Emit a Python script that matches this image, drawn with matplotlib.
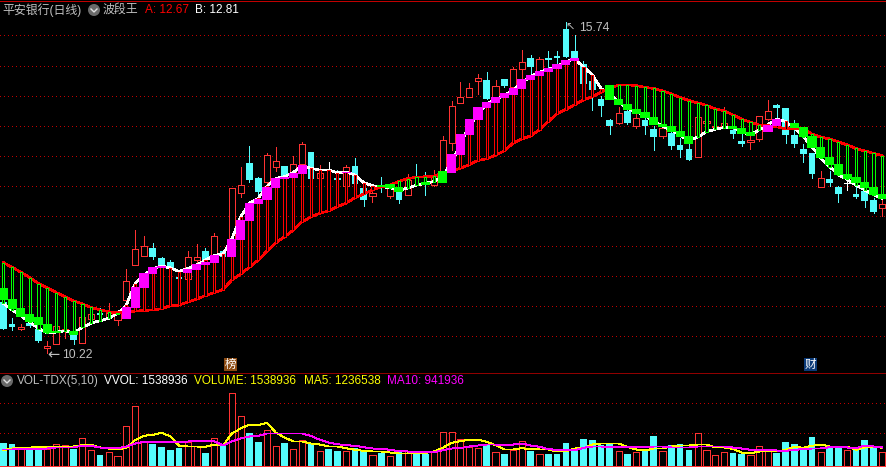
"""平安银行 daily K-line with the 波段王 overlay and a VOL-TDX panel (887x467)."""
import numpy as np
import matplotlib
matplotlib.use("Agg")
import matplotlib.pyplot as plt
from matplotlib.patches import Circle, Rectangle

plt.rcParams['font.family'] = ['Liberation Sans', 'Noto Sans CJK SC', 'DejaVu Sans']

OPEN = [11.07, 10.71, 10.63, 10.72, 10.62, 10.31, 10.37, 10.59, 10.52, 10.38,
        10.79, 10.89, 10.82, 10.77, 11.11, 11.69, 11.84, 11.97, 11.81, 11.74,
        11.49, 11.45, 11.78, 11.92, 11.86, 11.92, 11.85, 12.89, 13.39, 13.14,
        13.08, 13.33, 13.34, 13.22, 13.38, 13.58, 13.14, 13.27, 13.13, 13.01,
        13.34, 12.97, 12.84, 13.01, 12.84, 12.94, 12.86, 13.17, 13.06, 13.03,
        13.22, 13.72, 14.39, 14.49, 14.75, 14.77, 14.47, 14.79, 14.66, 14.95,
        15.14, 14.93, 15.14, 15.17, 15.62, 15.25, 15.04, 14.76, 14.46, 14.10,
        14.06, 14.26, 14.01, 14.10, 13.96, 13.84, 13.88, 13.69, 13.63, 13.49,
        14.05, 13.99, 13.99, 13.94, 13.76, 13.74, 13.79, 14.13, 14.36, 14.31,
        13.86, 13.63, 13.56, 12.99, 13.12, 12.98, 13.05, 12.88, 12.93, 12.77,
        12.64]
HIGH = [11.07, 10.81, 10.71, 10.75, 10.66, 10.42, 10.67, 10.62, 10.61, 10.82,
        10.87, 10.97, 11.05, 10.89, 11.63, 12.27, 12.17, 12.06, 11.83, 11.78,
        11.49, 11.92, 12.04, 11.98, 12.22, 11.92, 12.98, 13.32, 13.67, 13.16,
        13.56, 13.65, 13.34, 13.51, 13.74, 13.58, 13.36, 13.41, 13.27, 13.36,
        13.48, 13.08, 12.98, 13.16, 13.00, 13.00, 13.21, 13.38, 13.24, 13.27,
        13.84, 14.43, 14.74, 14.72, 14.87, 14.91, 14.77, 14.79, 14.99, 15.27,
        15.19, 15.16, 15.26, 15.26, 15.74, 15.52, 15.09, 14.83, 14.50, 14.13,
        14.33, 14.30, 14.20, 14.15, 14.00, 14.00, 13.95, 13.80, 13.70, 14.15,
        14.10, 14.02, 14.32, 14.00, 13.90, 13.85, 14.17, 14.44, 14.38, 14.31,
        14.11, 13.70, 13.56, 13.26, 13.25, 13.00, 13.12, 13.00, 12.97, 12.80,
        12.77]
LOW = [10.62, 10.61, 10.61, 10.65, 10.41, 10.22, 10.37, 10.48, 10.37, 10.38,
       10.79, 10.83, 10.82, 10.69, 10.99, 11.69, 11.84, 11.79, 11.66, 11.59,
       11.46, 11.45, 11.58, 11.77, 11.86, 11.82, 11.85, 12.82, 13.08, 12.85,
       13.05, 13.26, 13.15, 13.22, 13.38, 13.13, 13.05, 13.27, 13.06, 12.98,
       13.00, 12.67, 12.74, 12.91, 12.81, 12.73, 12.86, 13.02, 12.86, 13.00,
       13.20, 13.60, 14.39, 14.49, 14.54, 14.46, 14.47, 14.65, 14.66, 14.80,
       14.86, 14.93, 14.97, 15.02, 15.16, 15.00, 14.71, 14.27, 14.17, 13.87,
       14.04, 14.04, 13.98, 13.87, 13.61, 13.81, 13.62, 13.49, 13.44, 13.49,
       14.05, 13.98, 13.99, 13.81, 13.68, 13.62, 13.76, 14.10, 14.13, 13.73,
       13.66, 13.41, 13.14, 12.99, 13.01, 12.74, 12.94, 12.80, 12.66, 12.56,
       12.51]
CLOSE = [10.62, 10.66, 10.66, 10.68, 10.42, 10.33, 10.67, 10.62, 10.44, 10.82,
         10.87, 10.86, 10.89, 10.89, 11.42, 11.95, 12.00, 11.82, 11.69, 11.63,
         11.46, 11.82, 11.82, 11.77, 12.17, 11.82, 12.98, 13.03, 13.11, 12.91,
         13.53, 13.43, 13.15, 13.37, 13.70, 13.13, 13.23, 13.27, 13.11, 13.33,
         13.04, 12.77, 12.88, 12.97, 12.97, 12.77, 13.11, 13.15, 13.03, 13.18,
         13.77, 14.34, 14.48, 14.63, 14.80, 14.46, 14.68, 14.68, 14.95, 15.08,
         14.99, 15.12, 15.11, 15.14, 15.16, 15.12, 14.71, 14.61, 14.34, 14.01,
         14.22, 14.06, 14.13, 14.00, 13.83, 13.97, 13.68, 13.61, 13.44, 14.15,
         14.09, 14.01, 14.05, 13.87, 13.71, 13.78, 14.17, 14.25, 14.31, 13.86,
         13.71, 13.54, 13.21, 13.13, 13.06, 12.87, 13.05, 12.82, 12.76, 12.57,
         12.70]

# slow (red) and fast (white) lines of the overlay
LINE_A = [11.73, 11.65, 11.57, 11.48, 11.38, 11.31, 11.23, 11.16, 11.09, 11.04,
          10.98, 10.94, 10.91, 10.89, 10.91, 10.92, 10.93, 10.94, 10.96, 11.01,
          11.02, 11.07, 11.12, 11.18, 11.23, 11.28, 11.44, 11.54, 11.65, 11.77,
          11.92, 12.06, 12.16, 12.27, 12.41, 12.49, 12.55, 12.59, 12.66, 12.72,
          12.81, 12.87, 12.94, 12.99, 13.02, 13.08, 13.13, 13.15, 13.16, 13.17,
          13.22, 13.26, 13.30, 13.36, 13.43, 13.46, 13.52, 13.59, 13.72, 13.79,
          13.84, 13.94, 14.08, 14.21, 14.28, 14.36, 14.44, 14.49, 14.57, 14.63,
          14.69, 14.69, 14.68, 14.65, 14.63, 14.59, 14.54, 14.48, 14.43, 14.39,
          14.35, 14.29, 14.26, 14.19, 14.12, 14.07, 14.02, 14.01, 13.99, 13.96,
          13.96, 13.96, 13.87, 13.82, 13.79, 13.74, 13.69, 13.63, 13.59, 13.55,
          13.51]
LINE_B = [11.05, 10.94, 10.84, 10.74, 10.63, 10.56, 10.57, 10.59, 10.56, 10.65,
          10.72, 10.76, 10.80, 10.88, 11.02, 11.38, 11.52, 11.63, 11.67, 11.64,
          11.58, 11.63, 11.69, 11.77, 11.85, 11.87, 12.12, 12.49, 12.72, 12.80,
          13.00, 13.13, 13.16, 13.23, 13.34, 13.30, 13.27, 13.27, 13.23, 13.24,
          13.19, 13.06, 13.01, 12.99, 12.98, 12.93, 12.97, 13.02, 13.05, 13.08,
          13.17, 13.40, 13.70, 14.00, 14.20, 14.38, 14.44, 14.52, 14.60, 14.73,
          14.83, 14.90, 14.95, 15.00, 15.08, 15.12, 14.99, 14.86, 14.63, 14.55,
          14.40, 14.30, 14.24, 14.18, 14.08, 14.00, 13.94, 13.85, 13.76, 13.82,
          13.91, 13.95, 13.98, 13.98, 13.91, 13.86, 13.94, 14.03, 14.12, 14.08,
          13.97, 13.83, 13.66, 13.47, 13.33, 13.19, 13.12, 13.02, 12.94, 12.86,
          12.80]

N = None
BLOCK_TOP = [11.30, 11.12, 10.97, 10.87, 10.82, 10.71, 10.59, N, 10.59, N,
             N, N, N, N, 10.99, 11.32, 11.56, 11.66, 11.67, N,
             N, 11.62, 11.71, 11.74, 11.85, N, 12.12, 12.44, 12.72, 12.79,
             12.99, 13.14, 13.16, 13.22, 13.35, N, N, N, N, 13.24,
             N, N, N, 13.02, 13.04, 12.99, N, N, 13.07, N,
             13.25, 13.54, 13.87, 14.12, 14.32, 14.41, 14.49, 14.56, 14.64, 14.79,
             14.86, 14.92, 14.97, 15.04, 15.11, 15.14, N, N, N, 14.69,
             14.46, 14.37, 14.29, 14.24, 14.16, 14.04, 14.01, 13.92, 13.84, N,
             N, N, N, 14.01, 13.97, 13.91, N, 14.02, 14.12, N,
             14.06, 13.99, 13.84, 13.66, 13.49, 13.37, 13.21, 13.16, 13.07, 12.99,
             12.87]
BLOCK_BOT = [11.11, 10.95, 10.83, 10.74, 10.69, 10.56, 10.56, N, 10.52, N,
             N, N, N, N, 10.79, 10.98, 11.31, 11.54, 11.64, N,
             N, 11.55, 11.61, 11.69, 11.73, N, 11.82, 12.11, 12.42, 12.71,
             12.77, 12.97, 13.12, 13.14, 13.21, N, N, N, N, 13.22,
             N, N, N, 12.99, 12.97, 12.91, N, N, 13.03, N,
             13.05, 13.22, 13.52, 13.86, 14.11, 14.31, 14.39, 14.47, 14.52, 14.62,
             14.77, 14.84, 14.91, 14.96, 15.02, 15.09, N, N, N, 14.44,
             14.36, 14.27, 14.21, 14.14, 14.02, 13.99, 13.91, 13.82, 13.71, N,
             N, N, N, 13.96, 13.87, 13.84, N, 13.91, 14.01, N,
             13.97, 13.82, 13.64, 13.47, 13.36, 13.19, 13.12, 13.06, 12.97, 12.86,
             12.79]

# volume in units of 10k
VOL = [223, 213, 190, 170, 167, 163, 220, 210, 163, 280, 160, 103, 140, 100, 400, 600, 250,
       213, 183, 153, 173, 240, 200, 130, 280, 203, 730, 500, 323, 233, 360, 200, 223, 170,
       260, 220, 150, 163, 143, 150, 177, 150, 110, 127, 100, 133, 150, 140, 113, 133, 340,
       340, 270, 190, 173, 207, 140, 113, 157, 247, 150, 120, 113, 113, 223, 173, 263, 253,
       203, 213, 150, 113, 140, 150, 293, 150, 203, 213, 153, 330, 160, 110, 140, 123, 113,
       110, 200, 170, 123, 233, 213, 153, 283, 140, 177, 183, 160, 153, 253, 183, 140]
MA5 = [153, 170, 177, 177, 190, 180, 183, 187, 190, 203, 207, 180, 170, 160, 177, 253, 297,
       307, 327, 293, 197, 190, 190, 187, 210, 200, 320, 370, 410, 403, 427, 330, 280, 240,
       240, 220, 210, 190, 190, 173, 157, 147, 140, 140, 130, 120, 120, 130, 127, 140, 177,
       227, 243, 257, 260, 237, 203, 160, 160, 173, 163, 160, 160, 140, 140, 170, 173, 210,
       220, 220, 220, 187, 160, 150, 170, 170, 190, 200, 200, 210, 210, 180, 180, 167, 130,
       120, 140, 140, 140, 157, 187, 177, 197, 210, 190, 183, 190, 157, 180, 190, 177]
MA10 = [160, 160, 167, 167, 167, 170, 180, 180, 180, 200, 197, 180, 177, 173, 190, 220, 237,
        240, 237, 237, 230, 240, 247, 250, 243, 200, 243, 270, 290, 297, 320, 320, 320, 320,
        320, 297, 257, 230, 213, 203, 197, 183, 170, 167, 157, 143, 140, 137, 130, 133, 153,
        170, 173, 190, 200, 210, 210, 200, 210, 220, 200, 187, 163, 157, 157, 150, 177, 190,
        190, 183, 183, 180, 187, 187, 190, 190, 180, 180, 180, 190, 190, 190, 190, 180, 170,
        157, 157, 157, 150, 147, 157, 163, 170, 170, 183, 190, 180, 173, 200, 190, 180]

PRICE_GRID = [10.5, 11.0, 11.5, 12.0, 12.5, 13.0, 13.5, 14.0, 14.5, 15.0, 15.52]
VOL_GRID = [322, 622]

W, H = 887, 467
SPLIT = 372               # pixel row between price and volume panels
RED = "#ff3232"
CYAN = "#54fcfc"
GREY = "#c0c0c0"
GRID = "#c00000"
THIN = 0.7                # one device pixel once antialiasing is off

o, hi, lo, c = map(np.array, (OPEN, HIGH, LOW, CLOSE))
a, b = np.array(LINE_A), np.array(LINE_B)
top = np.array(BLOCK_TOP, dtype=float)
bot = np.array(BLOCK_BOT, dtype=float)
x = np.arange(len(o))
up = c > o
doji = c == o
down = c < o
vol_up = up.copy()
vol_up[96] = True         # doji, drawn red in the volume panel

fig = plt.figure(figsize=(W / 100, H / 100), dpi=100, facecolor="black")
ax = fig.add_axes([0, (H - SPLIT) / H, 1, SPLIT / H], facecolor="black")
ax2 = fig.add_axes([0, 0, 1, (H - SPLIT) / H], facecolor="black")
deco = fig.add_axes([0, 0, 1, 1], facecolor="none")
xlim = (-3.3 / 8.79, (W - 3.3) / 8.79)
ax.set_xlim(*xlim); ax.set_ylim(10.5 + (336.3 - SPLIT) / 60, 10.5 + 336.3 / 60)
ax2.set_xlim(*xlim); ax2.set_ylim(-15, 935)
deco.set_xlim(0, W); deco.set_ylim(H, 0)
for aa in (ax, ax2, deco):
    aa.axis("off")

# grid
dots = (0, (1, 4))
for g in PRICE_GRID:
    ax.axhline(g, color=GRID, lw=0.72, ls=dots, antialiased=False, zorder=1)
for g in VOL_GRID:
    ax2.axhline(g, color=GRID, lw=0.72, ls=dots, antialiased=False, zorder=1)

# candles
ax.vlines(x[up], lo[up], hi[up], color=RED, lw=THIN, antialiased=False, zorder=2)
ax.vlines(x[down], lo[down], hi[down], color=CYAN, lw=THIN, antialiased=False, zorder=2)
ax.vlines(x[doji], lo[doji], hi[doji], color="white", lw=THIN, antialiased=False, zorder=2)
ax.hlines(c[doji], x[doji] - 0.36, x[doji] + 0.36, color="white", lw=THIN, antialiased=False, zorder=2)
ax.bar(x[up], (c - o)[up], 0.7, bottom=o[up], facecolor="black", edgecolor=RED,
       lw=THIN, antialiased=False, zorder=3)
ax.bar(x[down], (o - c)[down], 0.76, bottom=c[down], color=CYAN, lw=0,
       antialiased=False, zorder=3)

# overlay: lines, hollow sticks between them, wide blocks on the fast line
ax.plot(x, b, color="white", lw=1.2, antialiased=False, zorder=4)
ax.plot(x, a, color="#ff0000", lw=1.2, antialiased=False, zorder=5)
rising = b >= a
ax.bar(x[rising], (b - a)[rising], 0.25, bottom=a[rising], facecolor="black", edgecolor="#ff0000",
       lw=THIN, antialiased=False, zorder=6)
ax.bar(x[~rising], (a - b)[~rising], 0.25, bottom=b[~rising], facecolor="black", edgecolor="#00ff00",
       lw=THIN, antialiased=False, zorder=6)
prev = np.r_[b[0] + 1, b[:-1]]
is_green = (b < a) | (b < prev)
has = ~np.isnan(top)
ax.bar(x[has & is_green], (top - bot)[has & is_green], 1.04, bottom=bot[has & is_green],
       color="#00ff00", lw=0, antialiased=False, zorder=7)
ax.bar(x[has & ~is_green], (top - bot)[has & ~is_green], 1.04, bottom=bot[has & ~is_green],
       color="#ff00ff", lw=0, antialiased=False, zorder=7)

# high / low markers
ax.annotate("↖", xy=(64, HIGH[64]), xytext=(0, -9), textcoords="offset pixels", color=GREY,
            fontsize=8, family="DejaVu Sans", zorder=8)
ax.annotate("15.74", xy=(64, HIGH[64]), xytext=(13, -9), textcoords="offset pixels",
            color=GREY, fontsize=8.8, family="Liberation Sans", zorder=8)
ax.annotate("←", xy=(5, LOW[5]), xytext=(0, -6), textcoords="offset pixels",
            color=GREY, fontsize=10.5, family="DejaVu Sans", zorder=8)
ax.annotate("10.22", xy=(5, LOW[5]), xytext=(15, -5), textcoords="offset pixels",
            color=GREY, fontsize=8.8, family="Liberation Sans", zorder=8)

# volume panel
v = np.array(VOL, dtype=float)
ax2.bar(x[~vol_up], v[~vol_up], 0.76, color=CYAN, lw=0, antialiased=False, zorder=2)
ax2.bar(x[vol_up], v[vol_up], 0.7, facecolor="black", edgecolor=RED, lw=THIN,
        antialiased=False, zorder=2)
ax2.plot(x, MA5, color="#ffff00", lw=THIN, antialiased=False, zorder=3)
ax2.plot(x, MA10, color="#ff00ff", lw=THIN, antialiased=False, zorder=4)
ax2.axhline(0, color=RED, lw=THIN, antialiased=False, zorder=4)

# frame lines
deco.axhline(0.5, color="#c00000", lw=THIN, antialiased=False)
deco.axhline(SPLIT + 0.5, color="#900000", lw=THIN, antialiased=False)


def chevron(cx, cy):
    deco.add_patch(Circle((cx, cy), 6, facecolor="#6a6a6a", edgecolor="none"))
    deco.plot([cx - 3, cx, cx + 3], [cy - 1, cy + 2, cy - 1], color="#e0e0e0", lw=1.0)


def label(px, py, s, color, size=8.5):
    deco.text(px, py, s, color=color, fontsize=size, va="center", ha="left")


# header texts
label(2, 10, "平安银行(日线)", GREY, 8.6)
chevron(94, 10)
label(103, 10, "波段王", GREY, 8.6)
label(145, 10, "A: 12.67", "#ff0000")
label(195, 10, "B: 12.81", "white")

chevron(7, 381)
label(17, 381, "VOL-TDX(5,10)", GREY)
label(104, 381, "VVOL: 1538936", "white")
label(194, 381, "VOLUME: 1538936", "#ffff00")
label(304, 381, "MA5: 1236538", "#ffff00")
label(387, 381, "MA10: 941936", "#ff00ff")

# event badges
deco.add_patch(Rectangle((224, 358), 13, 13, facecolor="#8b4a12", edgecolor="none"))
deco.text(230.5, 364.5, "榜", color="white", fontsize=8.4, ha="center", va="center")
deco.add_patch(Rectangle((804, 358), 13, 13, facecolor="#0b3a78", edgecolor="none"))
deco.text(810.5, 364.5, "财", color="white", fontsize=8.4, ha="center", va="center")

fig.savefig("out.png", dpi=100, facecolor="black")
